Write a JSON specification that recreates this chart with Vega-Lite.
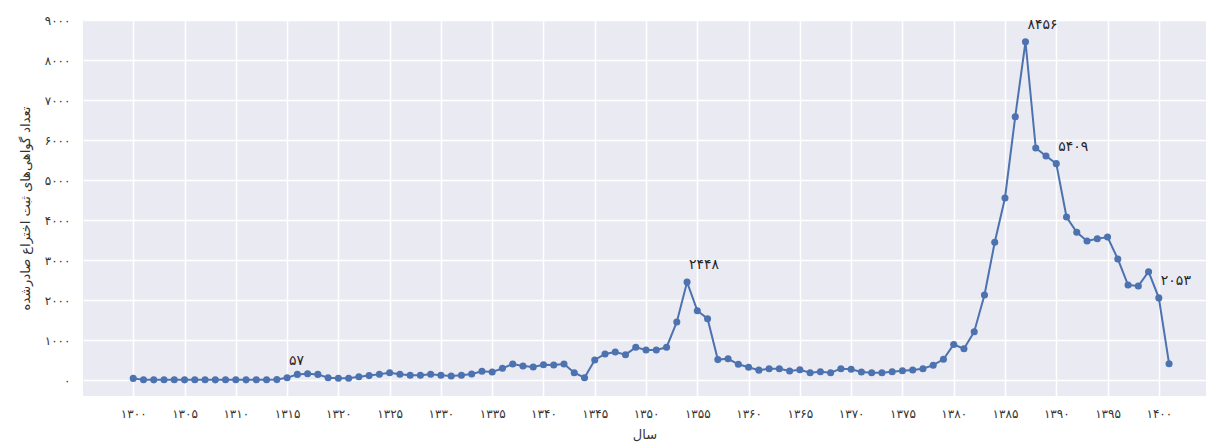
{
  "$schema": "https://vega.github.io/schema/vega-lite/v6.json",
  "width": 1123,
  "height": 376,
  "autosize": {"type": "none"},
  "padding": {"left": 83, "top": 20, "right": 0, "bottom": 46},
  "background": "white",
  "config": {
    "locale": {
      "number": {
        "decimal": "٫",
        "thousands": "٬",
        "grouping": [3],
        "currency": ["", ""],
        "numerals": ["۰", "۱", "۲", "۳", "۴", "۵", "۶", "۷", "۸", "۹"]
      }
    },
    "view": {"fill": "#EAEAF2", "stroke": null},
    "axis": {
      "domain": false,
      "ticks": false,
      "gridColor": "white",
      "gridWidth": 1.5,
      "gridOpacity": 1,
      "labelFont": "DejaVu Sans",
      "labelFontSize": 12,
      "labelColor": "#333333",
      "titleFont": "DejaVu Sans",
      "titleFontWeight": "normal",
      "titleFontSize": 13,
      "titleColor": "#333333"
    }
  },
  "data": {
    "values": [
      {"year": 1300, "count": 40},
      {"year": 1301, "count": 5},
      {"year": 1302, "count": 4},
      {"year": 1303, "count": 6},
      {"year": 1304, "count": 5},
      {"year": 1305, "count": 4},
      {"year": 1306, "count": 6},
      {"year": 1307, "count": 5},
      {"year": 1308, "count": 4},
      {"year": 1309, "count": 5},
      {"year": 1310, "count": 6},
      {"year": 1311, "count": 4},
      {"year": 1312, "count": 5},
      {"year": 1313, "count": 6},
      {"year": 1314, "count": 10},
      {"year": 1315, "count": 57},
      {"year": 1316, "count": 140},
      {"year": 1317, "count": 155},
      {"year": 1318, "count": 140},
      {"year": 1319, "count": 58},
      {"year": 1320, "count": 45},
      {"year": 1321, "count": 45},
      {"year": 1322, "count": 80},
      {"year": 1323, "count": 110},
      {"year": 1324, "count": 142},
      {"year": 1325, "count": 183},
      {"year": 1326, "count": 142},
      {"year": 1327, "count": 117},
      {"year": 1328, "count": 117},
      {"year": 1329, "count": 142},
      {"year": 1330, "count": 117},
      {"year": 1331, "count": 100},
      {"year": 1332, "count": 117},
      {"year": 1333, "count": 150},
      {"year": 1334, "count": 217},
      {"year": 1335, "count": 200},
      {"year": 1336, "count": 292},
      {"year": 1337, "count": 400},
      {"year": 1338, "count": 350},
      {"year": 1339, "count": 325},
      {"year": 1340, "count": 383},
      {"year": 1341, "count": 375},
      {"year": 1342, "count": 400},
      {"year": 1343, "count": 183},
      {"year": 1344, "count": 58},
      {"year": 1345, "count": 500},
      {"year": 1346, "count": 650},
      {"year": 1347, "count": 700},
      {"year": 1348, "count": 633},
      {"year": 1349, "count": 817},
      {"year": 1350, "count": 750},
      {"year": 1351, "count": 750},
      {"year": 1352, "count": 817},
      {"year": 1353, "count": 1450},
      {"year": 1354, "count": 2448},
      {"year": 1355, "count": 1733},
      {"year": 1356, "count": 1533},
      {"year": 1357, "count": 510},
      {"year": 1358, "count": 530},
      {"year": 1359, "count": 392},
      {"year": 1360, "count": 320},
      {"year": 1361, "count": 246},
      {"year": 1362, "count": 283},
      {"year": 1363, "count": 283},
      {"year": 1364, "count": 225},
      {"year": 1365, "count": 258},
      {"year": 1366, "count": 183},
      {"year": 1367, "count": 208},
      {"year": 1368, "count": 183},
      {"year": 1369, "count": 283},
      {"year": 1370, "count": 267},
      {"year": 1371, "count": 200},
      {"year": 1372, "count": 183},
      {"year": 1373, "count": 183},
      {"year": 1374, "count": 208},
      {"year": 1375, "count": 233},
      {"year": 1376, "count": 250},
      {"year": 1377, "count": 283},
      {"year": 1378, "count": 370},
      {"year": 1379, "count": 517},
      {"year": 1380, "count": 888},
      {"year": 1381, "count": 783},
      {"year": 1382, "count": 1208},
      {"year": 1383, "count": 2125},
      {"year": 1384, "count": 3442},
      {"year": 1385, "count": 4550},
      {"year": 1386, "count": 6583},
      {"year": 1387, "count": 8456},
      {"year": 1388, "count": 5800},
      {"year": 1389, "count": 5600},
      {"year": 1390, "count": 5409},
      {"year": 1391, "count": 4075},
      {"year": 1392, "count": 3692},
      {"year": 1393, "count": 3475},
      {"year": 1394, "count": 3533},
      {"year": 1395, "count": 3575},
      {"year": 1396, "count": 3025},
      {"year": 1397, "count": 2375},
      {"year": 1398, "count": 2350},
      {"year": 1399, "count": 2708},
      {"year": 1400, "count": 2053},
      {"year": 1401, "count": 408}
    ]
  },
  "encoding": {
    "x": {
      "field": "year",
      "type": "quantitative",
      "scale": {"domain": [1295.1, 1404.6], "nice": false, "zero": false},
      "axis": {
        "values": [1300, 1305, 1310, 1315, 1320, 1325, 1330, 1335, 1340, 1345, 1350, 1355, 1360, 1365, 1370, 1375, 1380, 1385, 1390, 1395, 1400],
        "format": "d",
        "labelPadding": 12,
        "title": "سال",
        "titlePadding": 9
      }
    },
    "y": {
      "field": "count",
      "type": "quantitative",
      "scale": {"domain": [-400, 9000], "nice": false, "zero": false},
      "axis": {
        "values": [0, 1000, 2000, 3000, 4000, 5000, 6000, 7000, 8000, 9000],
        "format": "d",
        "labelPadding": 13,
        "title": "تعداد گواهی‌های ثبت اختراع صادرشده",
        "titlePadding": 12
      }
    }
  },
  "layer": [
    {
      "mark": {
        "type": "line",
        "color": "#4C72B0",
        "strokeWidth": 2,
        "point": {"filled": true, "size": 50, "color": "#4C72B0", "opacity": 1}
      }
    },
    {
      "transform": [{"filter": {"field": "year", "oneOf": [1315, 1354, 1387, 1390, 1400]}}],
      "mark": {
        "type": "text",
        "align": "left",
        "baseline": "bottom",
        "dx": 2,
        "dy": -10,
        "font": "DejaVu Sans",
        "fontSize": 14,
        "color": "#262626"
      },
      "encoding": {
        "text": {"field": "count", "type": "quantitative", "format": "d"}
      }
    }
  ]
}
